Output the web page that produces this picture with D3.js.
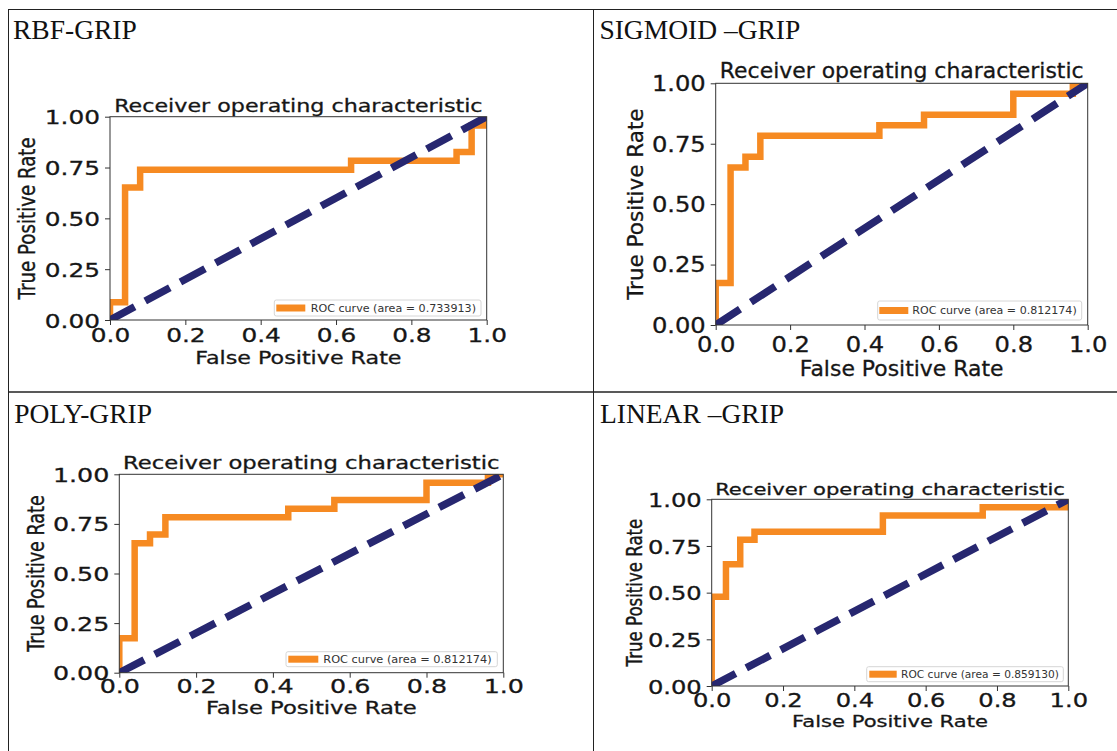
<!doctype html>
<html lang="en">
<head>
<meta charset="utf-8">
<title>ROC curves - GRIP</title>
<script src="https://d3js.org/d3.v7.min.js"></script>
<style>
body { margin: 0; background: #fff; }
svg { display: block; background: #fff; }
.panel-title { font-family: "Liberation Serif", "Times New Roman", serif; font-size: 27.5px; fill: #111; }
.mpl { font-family: "DejaVu Sans", sans-serif; fill: #161616; stroke: #161616; stroke-width: 0.3; }
.axis path, .axis line { stroke: #333; stroke-width: 1; }
.grid-line { stroke: #222; stroke-width: 1; }
</style>
</head>
<body>
<svg width="1117" height="751"></svg>
<script>
// ---- data ----
var panelNames = ['RBF-GRIP', 'SIGMOID \u2013GRIP', 'POLY-GRIP', 'LINEAR \u2013GRIP'];
var aucValues = ['0.733913', '0.812174', '0.812174', '0.859130'];

var fprRbf = [0, 0, 0.04, 0.04, 0.08, 0.08, 0.64, 0.64, 0.92, 0.92, 0.96, 0.96, 1.0, 1.0];
var tprRbf = [0, 0.087, 0.087, 0.652, 0.652, 0.739, 0.739, 0.783, 0.783, 0.826, 0.826, 0.957, 0.957, 1.0];

var fprSigmoid = [0, 0, 0.04, 0.04, 0.08, 0.08, 0.12, 0.12, 0.44, 0.44, 0.56, 0.56, 0.80, 0.80, 0.96, 0.96, 1.0];
var tprSigmoid = [0, 0.174, 0.174, 0.652, 0.652, 0.696, 0.696, 0.783, 0.783, 0.826, 0.826, 0.870, 0.870, 0.957, 0.957, 1.0, 1.0];

var fprPoly = [0, 0, 0.04, 0.04, 0.08, 0.08, 0.12, 0.12, 0.44, 0.44, 0.56, 0.56, 0.80, 0.80, 0.96, 0.96, 1.0];
var tprPoly = [0, 0.174, 0.174, 0.652, 0.652, 0.696, 0.696, 0.783, 0.783, 0.826, 0.826, 0.870, 0.870, 0.957, 0.957, 1.0, 1.0];

var fprLinear = [0, 0, 0.04, 0.04, 0.08, 0.08, 0.12, 0.12, 0.48, 0.48, 0.76, 0.76, 1.0, 1.0];
var tprLinear = [0, 0.478, 0.478, 0.652, 0.652, 0.783, 0.783, 0.826, 0.826, 0.913, 0.913, 0.957, 0.957, 1.0];

var chanceX = [0, 1];
var chanceY = [0, 1];

var xTicks = [0, 0.2, 0.4, 0.6, 0.8, 1.0];
var xTickLabels = ['0.0', '0.2', '0.4', '0.6', '0.8', '1.0'];
var yTicks = [0, 0.25, 0.5, 0.75, 1.0];
var yTickLabels = ['0.00', '0.25', '0.50', '0.75', '1.00'];

// ---- where each panel sits (the source screenshots are stretched sideways) ----
var layout = [
  { fpr: fprRbf, tpr: tprRbf, tx: 13, ty: 39,
    x0: 110, x1: 486.7, y0: 116.7, y1: 320, f: 18.2, sx: 1.22, tf: 20, tsx: 1.24,
    titleBase: 111.7, xtBase: 341.7, xlBase: 364.3, ylX: 27.5,
    lg: [274.3, 481, 300, 316], sw: [275.3, 305.3], lgText: 310.7, lgW: 165.3, dash: '28,12' },
  { fpr: fprSigmoid, tpr: tprSigmoid, tx: 599.4, ty: 39.3,
    x0: 715.7, x1: 1087.7, y0: 83.3, y1: 325, f: 21.5, sx: 1.02, tf: 20.5, tsx: 1.18,
    titleBase: 77.7, xtBase: 351.7, xlBase: 376, ylX: 635.5,
    lg: [877.7, 1081.7, 301, 320], sw: [878.3, 908.3], lgText: 912.3, lgW: 164.4, dash: '29,13' },
  { fpr: fprPoly, tpr: tprPoly, tx: 14.2, ty: 422.7,
    x0: 119.3, x1: 503.3, y0: 474.3, y1: 672.7, f: 17.6, sx: 1.29, tf: 19.5, tsx: 1.3,
    titleBase: 469, xtBase: 693.3, xlBase: 714.3, ylX: 35.8,
    lg: [286, 497.3, 651.7, 666.7], sw: [287.3, 318.3], lgText: 323.3, lgW: 168.4, dash: '28,12' },
  { fpr: fprLinear, tpr: tprLinear, tx: 600, ty: 422.7,
    x0: 711.7, x1: 1068.3, y0: 499.3, y1: 686, f: 16.6, sx: 1.27, tf: 19.5, tsx: 1.24,
    titleBase: 495, xtBase: 706.7, xlBase: 726.7, ylX: 634.5,
    lg: [866.7, 1063.3, 666.7, 681.7], sw: [868.3, 896.7], lgText: 901, lgW: 158, dash: '27,12' }
];

var svg = d3.select('svg');

// table frame
svg.append('line').attr('class', 'grid-line').attr('x1', 8.5).attr('x2', 8.5).attr('y1', 9).attr('y2', 751);
svg.append('line').attr('class', 'grid-line').attr('x1', 8).attr('x2', 1117).attr('y1', 9.5).attr('y2', 9.5);
svg.append('line').attr('class', 'grid-line').attr('x1', 593.5).attr('x2', 593.5).attr('y1', 9).attr('y2', 751);
svg.append('line').attr('class', 'grid-line').attr('x1', 8).attr('x2', 1117).attr('y1', 392).attr('y2', 392)
  .style('stroke-width', 1.6);

// text that is squeezed/stretched sideways like the screenshots
function wideText(g, x, y, sx, size, str, anchor, rotate) {
  return g.append('text')
    .attr('class', 'mpl')
    .attr('transform', 'translate(' + x + ',' + y + ') scale(' + sx + ',1)' + (rotate ? ' rotate(-90)' : ''))
    .attr('text-anchor', anchor)
    .style('font-size', size + 'px')
    .text(str);
}

layout.forEach(function(p, i){
  var g = svg.append('g');

  g.append('text')
    .attr('class', 'panel-title')
    .attr('x', p.tx)
    .attr('y', p.ty)
    .text(panelNames[i]);

  var x = d3.scaleLinear().domain([0, 1]).range([p.x0, p.x1]);
  var y = d3.scaleLinear().domain([0, 1]).range([p.y1, p.y0]);

  var clipId = 'clip' + i;
  g.append('clipPath').attr('id', clipId)
    .append('rect')
      .attr('x', p.x0).attr('y', p.y0)
      .attr('width', p.x1 - p.x0).attr('height', p.y1 - p.y0);

  var line = d3.line()
    .x(function(d){ return x(d[0]); })
    .y(function(d){ return y(d[1]); });

  var rocPts = p.fpr.map(function(v, k){ return [v, p.tpr[k]]; });
  var chancePts = chanceX.map(function(v, k){ return [v, chanceY[k]]; });

  var plot = g.append('g').attr('clip-path', 'url(#' + clipId + ')');
  plot.append('path')
    .datum(rocPts)
    .attr('d', line)
    .attr('fill', 'none')
    .attr('stroke', '#f68a22')
    .attr('stroke-width', 6.5);

  plot.append('path')
    .datum(chancePts)
    .attr('d', line)
    .attr('fill', 'none')
    .attr('stroke', '#272770')
    .attr('stroke-width', 7.5)
    .attr('stroke-dasharray', p.dash);

  // frame
  g.append('rect')
    .attr('x', p.x0).attr('y', p.y0)
    .attr('width', p.x1 - p.x0).attr('height', p.y1 - p.y0)
    .attr('fill', 'none').attr('stroke', '#333').attr('stroke-width', 1);

  // axes
  var xAxis = d3.axisBottom(x).tickValues(xTicks).tickSize(5)
    .tickFormat(function(d, k){ return xTickLabels[k]; });
  var gx = g.append('g').attr('class', 'axis')
    .attr('transform', 'translate(0,' + p.y1 + ')')
    .call(xAxis);
  gx.select('.domain').remove();
  gx.selectAll('text')
    .attr('class', 'mpl')
    .attr('y', p.xtBase - p.y1)
    .attr('dy', 0)
    .attr('transform', 'scale(' + p.tsx + ',1)')
    .style('font-size', p.tf + 'px')
    .style('font-family', '"DejaVu Sans", sans-serif');

  var yAxis = d3.axisLeft(y).tickValues(yTicks).tickSize(5)
    .tickFormat(function(d, k){ return yTickLabels[k]; });
  var gy = g.append('g').attr('class', 'axis')
    .attr('transform', 'translate(' + p.x0 + ',0)')
    .call(yAxis);
  gy.select('.domain').remove();
  gy.selectAll('text')
    .attr('class', 'mpl')
    .attr('x', -10 / p.tsx)
    .attr('dy', '0.36em')
    .attr('transform', 'scale(' + p.tsx + ',1)')
    .style('font-size', p.tf + 'px')
    .style('font-family', '"DejaVu Sans", sans-serif');

  var cx = (p.x0 + p.x1) / 2;
  var cy = (p.y0 + p.y1) / 2;
  wideText(g, cx, p.titleBase, p.sx, p.f, 'Receiver operating characteristic', 'middle');
  wideText(g, cx, p.xlBase, p.sx, p.f, 'False Positive Rate', 'middle');
  wideText(g, p.ylX, cy, p.sx, p.f, 'True Positive Rate', 'middle', true)
    .attr('dy', '0.36em');

  // legend
  var lg = g.append('g');
  lg.append('rect')
    .attr('x', p.lg[0]).attr('y', p.lg[2])
    .attr('width', p.lg[1] - p.lg[0]).attr('height', p.lg[3] - p.lg[2])
    .attr('rx', 2)
    .attr('fill', '#fff').attr('fill-opacity', 0.85)
    .attr('stroke', '#d6d6d6');
  var lcy = (p.lg[2] + p.lg[3]) / 2;
  lg.append('line')
    .attr('x1', p.sw[0] + 1).attr('x2', p.sw[1])
    .attr('y1', lcy).attr('y2', lcy)
    .attr('stroke', '#f68a22').attr('stroke-width', 7);
  lg.append('text')
    .attr('x', p.lgText)
    .attr('y', lcy)
    .attr('dy', '0.36em')
    .attr('textLength', p.lgW)
    .attr('lengthAdjust', 'spacingAndGlyphs')
    .style('font-family', '"DejaVu Sans", sans-serif')
    .style('font-size', '11px')
    .style('fill', '#333')
    .text('ROC curve (area = ' + aucValues[i] + ')');
});
</script>
</body>
</html>
